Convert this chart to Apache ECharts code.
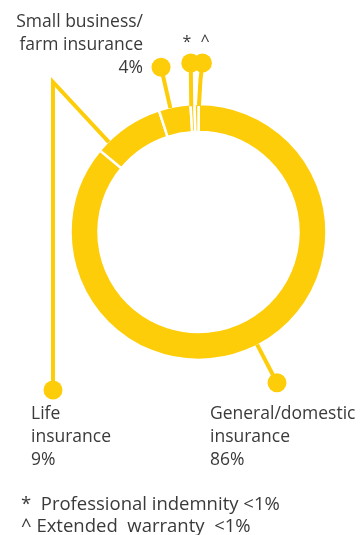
<!DOCTYPE html>
<html><head><meta charset="utf-8">
<script src="https://cdn.jsdelivr.net/npm/echarts@6/dist/echarts.min.js"></script>
<style>html,body{margin:0;padding:0;background:#fff}#c{width:363px;height:535px}</style>
</head><body><div id="c"></div>
<script>
// Data
const categories = ['General/domestic insurance', 'Life insurance', 'Small business/farm insurance', 'Professional indemnity', 'Extended warranty'];
const values = [86, 9, 4, 0.5, 0.5];
const labelTexts = ['General/domestic\ninsurance\n86%', 'Life\ninsurance\n9%', 'Small business/\nfarm insurance\n4%', '*', '^'];
const footnotes = ['*  Professional indemnity <1%', '^ Extended  warranty  <1%'];

const YEL = '#FECD0A';
const TXT = '#3a3a3a';
const FONT = '"Open Sans", "Noto Sans", sans-serif';
const cx = 198.5, cy = 232, rIn = 100, rOut = 128;

const chart = echarts.init(document.getElementById('c'), null, {renderer: 'canvas'});

// angles (clockwise from top, degrees) from data
const total = values.reduce((a, b) => a + b, 0);
const starts = [], ends = [];
let acc = 0;
values.forEach(v => { starts.push(acc / total * 360); acc += v; ends.push(acc / total * 360); });
const pt = (deg, r) => { const a = deg * Math.PI / 180; return [cx + r * Math.sin(a), cy - r * Math.cos(a)]; };

const lineStyle = {stroke: YEL, lineWidth: 4};
const g = [];
function dot(p) { g.push({type: 'circle', shape: {cx: p[0], cy: p[1], r: 9.5}, style: {fill: YEL}, z: 10}); }
function line(pts) { g.push({type: 'polyline', shape: {points: pts}, style: Object.assign({fill: null}, lineStyle), z: 10}); }
function text(x, y, s, align, size) {
  g.push({type: 'text', x: x, y: y, style: {text: s, fill: TXT, font: (size || 17.5) + 'px ' + FONT, textAlign: align || 'left', textVerticalAlign: 'top', lineHeight: 23}, z: 10});
}

// General/domestic: radial callout from slice
{
  const a = (starts[0] + ends[0]) / 2 - 2.3;
  const p0 = pt(a, rOut - 1), p1 = pt(a, 170);
  line([p0, p1]); dot(p1);
}
// Life: bent callout
{
  const a = starts[1] + 5.5;
  const p0 = pt(a, rOut - 1);
  const top = [53, 82];
  const bot = [53, 390];
  line([p0, top, bot]); dot(bot);
}
// Small business: radial callout
{
  const a = (starts[2] + ends[2]) / 2 - 2;
  const p0 = pt(a, rOut - 1), p1 = pt(a, 169);
  line([p0, p1]); dot(p1);
}
// * and ^ vertical callouts
{
  const p0 = pt((starts[3] + ends[3]) / 2 - 0.6, rOut - 2);
  const d = [p0[0] - 0.5, 63];
  line([p0, d]); dot(d);
  const q0 = pt(ends[4] + 0.2, rOut - 2);
  const e = [q0[0] + 3.5, 63];
  line([q0, [q0[0] + 1.5, 80], e]); dot(e);
}

text(143, 11, labelTexts[2], 'right');
text(187, 31, labelTexts[3], 'center', 16);
text(205, 30, labelTexts[4], 'center', 16);
text(31, 403, labelTexts[1], 'left');
text(210, 403, labelTexts[0], 'left');
text(21, 493, footnotes[0], 'left', 18.5);
text(21, 515, footnotes[1], 'left', 18.5);

chart.setOption({
  animation: false,
  graphic: g,
  series: [{
    type: 'pie',
    center: [cx, cy],
    radius: [rIn, rOut],
    startAngle: 90,
    clockwise: true,
    silent: true,
    label: {show: false},
    labelLine: {show: false},
    itemStyle: {color: YEL, borderColor: '#fff', borderWidth: 2.5},
    data: categories.map((c, i) => ({name: c, value: values[i]}))
  }]
});
</script></body></html>
